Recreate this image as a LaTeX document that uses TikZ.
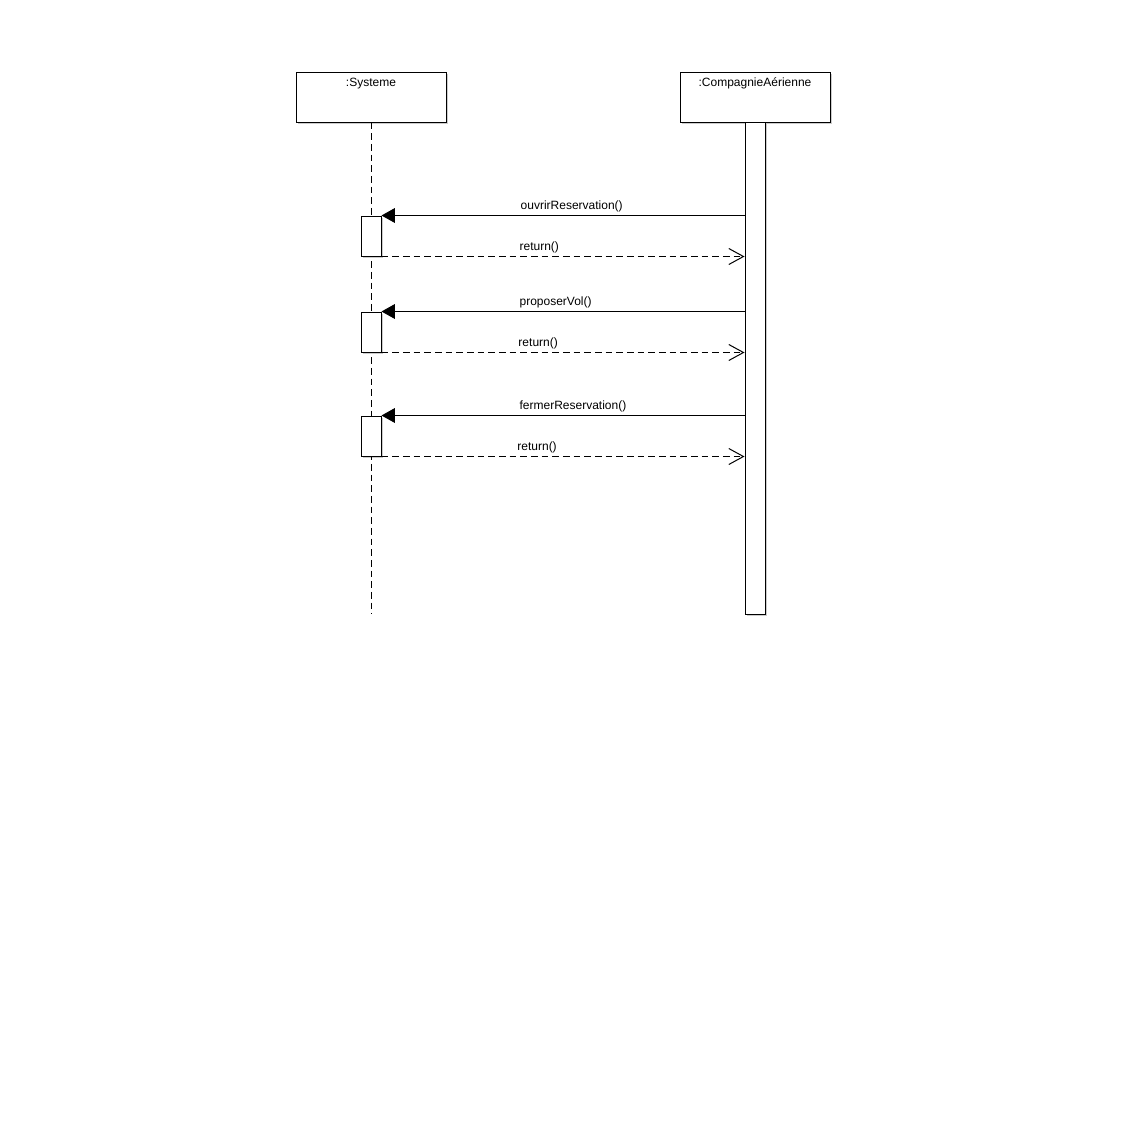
\documentclass[tikz,border=0pt]{standalone}
\usepackage{fontspec}
\setmainfont{Liberation Sans}
\usetikzlibrary{arrows.meta,positioning,shadows}

\begin{document}
\begin{tikzpicture}[x=0.75pt,y=-0.75pt,line width=0.75pt,
  font=\fontsize{9}{11}\selectfont,
  objbox/.style={draw,fill=white,minimum width=112.5pt,minimum height=37.5pt,inner sep=0pt,
    drop shadow={shadow xshift=1.5pt,shadow yshift=-1.5pt,fill=black,opacity=0.2}},
  actbox/.style={draw,fill=white,minimum width=15pt,minimum height=30pt,inner sep=0pt,
    drop shadow={shadow xshift=1.5pt,shadow yshift=-1.5pt,fill=black,opacity=0.2}},
  lifeline/.style={dash pattern=on 5pt off 3pt},
  msgcall/.style={-{Triangle[length=10pt,width=11pt]}},
  msgreturn/.style={dash pattern=on 5pt off 3pt,-{Straight Barb[length=11pt,width=12pt]}},
  msglabel/.style={anchor=south west,inner sep=0pt,yshift=2.5pt}]
\useasboundingbox (0,0) rectangle (1126,1135);
%define the objects
\node[objbox] (sysbox) at (371,97) {};
\node[anchor=north,inner sep=0pt] (syslabel) at ([yshift=-4.5pt]sysbox.north) {:Systeme};
\node[objbox] (compbox) at (755,97) {};
\node[anchor=north,inner sep=0pt] (complabel) at ([yshift=-4.5pt]compbox.north) {:CompagnieAérienne};
%draw the lifelines
\coordinate (sysend) at (371,614);
\draw[lifeline] (sysbox.south) -- (sysend);
\node[actbox,minimum height=369pt] (compbar) at (755,368) {};
%draw the activations
\node[actbox] (act1) at (371,236) {};
\node[actbox] (act2) at (371,332) {};
\node[actbox] (act3) at (371,436) {};
%draw the calls and the returns
\draw[msgcall] (compbar.west |- act1.north) -- (act1.north east)
  node[msglabel,pos=0.618] (call1) {ouvrirReservation()};
\draw[msgreturn] (act1.south east) -- (compbar.west |- act1.south)
  node[msglabel,pos=0.379] (ret1) {return()};
\draw[msgcall] (compbar.west |- act2.north) -- (act2.north east)
  node[msglabel,pos=0.621] (call2) {proposerVol()};
\draw[msgreturn] (act2.south east) -- (compbar.west |- act2.south)
  node[msglabel,pos=0.376] (ret2) {return()};
\draw[msgcall] (compbar.west |- act3.north) -- (act3.north east)
  node[msglabel,pos=0.621] (call3) {fermerReservation()};
\draw[msgreturn] (act3.south east) -- (compbar.west |- act3.south)
  node[msglabel,pos=0.373] (ret3) {return()};
\end{tikzpicture}
\end{document}
